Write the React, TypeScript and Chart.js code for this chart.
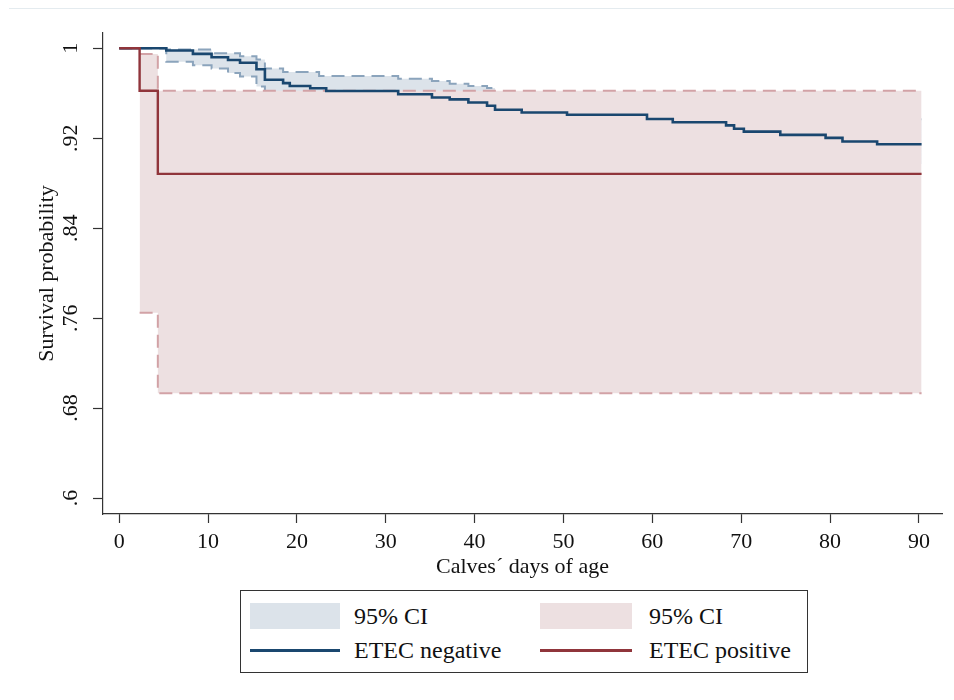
import React, { useEffect, useRef } from "react";
import { Chart, registerables } from "chart.js";

Chart.register(...registerables);

// Axis ticks
const xTicks = [0, 10, 20, 30, 40, 50, 60, 70, 80, 90];
const yTicks = [0.6, 0.68, 0.76, 0.84, 0.92, 1];
const yTickLabels = [".6", ".68", ".76", ".84", ".92", "1"];

// ETEC negative: Kaplan-Meier survival
const negDays = [0, 5.3, 8.3, 10.4, 12.25, 13.6, 15.45, 16.4, 18.45, 19.2, 21.5, 23.3, 31.4, 35.2, 37.2, 39.3, 41.4, 42.3, 45.3, 50.4, 59.4, 62.3, 68.3, 69.2, 70.3, 74.4, 79.5, 81.4, 85.3, 90.3];
const negSurv = [1, 0.998, 0.995, 0.992, 0.9896, 0.9872, 0.9813, 0.972, 0.969, 0.9665, 0.9645, 0.962, 0.9591, 0.9563, 0.9546, 0.9518, 0.9489, 0.9453, 0.9429, 0.9409, 0.9371, 0.9342, 0.9314, 0.9285, 0.9259, 0.923, 0.9203, 0.9171, 0.9147, 0.9147];

// ETEC negative: 95% CI
const negCiDays = [0, 5.3, 8.3, 10.4, 12.25, 13.6, 15.45, 16.4, 18.45, 21.5, 22.5, 31.4, 35.2, 37.2, 39.3, 41.4, 42.3, 45.3, 50.4, 59.4, 62.3, 68.3, 70.3, 74.4, 79.5, 81.4, 85.3, 90.3];
const negCiUpper = [1, 0.999, 0.999, 0.9955, 0.9955, 0.993, 0.99, 0.982, 0.979, 0.979, 0.9754, 0.973, 0.9708, 0.9684, 0.9664, 0.9646, 0.961, 0.958, 0.956, 0.953, 0.951, 0.949, 0.946, 0.944, 0.942, 0.939, 0.937, 0.937];
const negCiLower = [1, 0.988, 0.985, 0.982, 0.978, 0.975, 0.966, 0.955, 0.951, 0.949, 0.948, 0.944, 0.941, 0.939, 0.936, 0.933, 0.929, 0.926, 0.924, 0.92, 0.917, 0.914, 0.91, 0.907, 0.904, 0.9, 0.897, 0.897];

// ETEC positive: Kaplan-Meier survival
const posDays = [0, 2.3, 4.35, 90.3];
const posSurv = [1, 0.9623, 0.8883, 0.8883];

// ETEC positive: 95% CI
const posCiDays = [2.3, 4.35, 90.3];
const posCiUpper = [0.995, 0.9623, 0.9623];
const posCiLower = [0.7647, 0.6933, 0.6933];

const NAVY = "#1a476f";
const MAROON = "#90353b";
const NAVY_DASH = "#8ba4bc";
const MAROON_DASH = "#d2a2a6";
const NAVY_FILL = "#dce3ea";
const MAROON_FILL = "#ede0e1";
const FONT_FAMILY = "'Liberation Serif', 'Times New Roman', serif";

const pts = (xs: number[], ys: number[]) => xs.map((x, i) => ({ x, y: ys[i] }));

export default function App() {
  const canvasRef = useRef<HTMLCanvasElement | null>(null);

  useEffect(() => {
    const canvas = canvasRef.current;
    if (!canvas) return;
    const axisFont = { family: FONT_FAMILY, size: 22, lineHeight: 1.2 };
    const chart = new Chart(canvas, {
      type: "line",
      data: {
        datasets: [
          {
            label: "ETEC positive",
            data: pts(posDays, posSurv),
            borderColor: MAROON,
            borderWidth: 2.4,
            stepped: true,
            pointRadius: 0,
            fill: false,
          },
          {
            label: "ETEC negative",
            data: pts(negDays, negSurv),
            borderColor: NAVY,
            borderWidth: 2.6,
            stepped: true,
            pointRadius: 0,
            fill: false,
          },
          {
            label: "95% CI positive upper",
            data: pts(posCiDays, posCiUpper),
            borderColor: MAROON_DASH,
            borderWidth: 2,
            borderDash: [13, 7],
            stepped: true,
            pointRadius: 0,
            fill: false,
          },
          {
            label: "95% CI positive lower",
            data: pts(posCiDays, posCiLower),
            borderColor: MAROON_DASH,
            borderWidth: 2,
            borderDash: [13, 7],
            stepped: true,
            pointRadius: 0,
            fill: { target: "-1" },
            backgroundColor: MAROON_FILL,
          },
          {
            label: "95% CI negative upper",
            data: pts(negCiDays, negCiUpper),
            borderColor: NAVY_DASH,
            borderWidth: 2,
            borderDash: [13, 7],
            stepped: true,
            pointRadius: 0,
            fill: false,
          },
          {
            label: "95% CI negative lower",
            data: pts(negCiDays, negCiLower),
            borderColor: NAVY_DASH,
            borderWidth: 2,
            borderDash: [13, 7],
            stepped: true,
            pointRadius: 0,
            fill: { target: "-1" },
            backgroundColor: NAVY_FILL,
          },
        ],
      },
      options: {
        animation: false,
        responsive: false,
        devicePixelRatio: 1,
        layout: { padding: { left: 0, top: 33, right: 12, bottom: 0 } },
        plugins: {
          legend: { display: false },
          tooltip: { enabled: false },
        },
        scales: {
          x: {
            type: "linear",
            min: -1.82,
            max: 92.6,
            afterBuildTicks: (s: any) => {
              s.ticks = xTicks.map((v) => ({ value: v }));
            },
            afterFit: (s: any) => {
              s.height = 76;
            },
            grid: { drawOnChartArea: false, drawTicks: true, tickLength: 9, tickColor: "#333", tickWidth: 1.2 },
            border: { display: true, color: "#333", width: 1.2 },
            ticks: {
              padding: 6,
              color: "#111",
              font: axisFont,
              maxRotation: 0,
              autoSkip: false,
              callback: (v: any) => String(v),
            },
            title: {
              display: true,
              text: "Calves´ days of age",
              color: "#111",
              font: axisFont,
              padding: { top: 0, bottom: 10 },
            },
          },
          y: {
            type: "linear",
            min: 0.5858,
            max: 1.0136,
            afterBuildTicks: (s: any) => {
              s.ticks = yTicks.map((v) => ({ value: v }));
            },
            afterFit: (s: any) => {
              s.width = 103;
            },
            grid: { drawOnChartArea: false, drawTicks: true, tickLength: 10, tickColor: "#333", tickWidth: 1.2 },
            border: { display: true, color: "#333", width: 1.2 },
            ticks: {
              minRotation: 90,
              maxRotation: 90,
              crossAlign: "center",
              padding: 8,
              color: "#111",
              font: axisFont,
              autoSkip: false,
              callback: (_v: any, i: number) => yTickLabels[i],
            },
            title: {
              display: true,
              text: "Survival probability",
              color: "#111",
              font: axisFont,
              padding: { top: 34, bottom: 0 },
            },
          },
        },
      },
    } as any);
    return () => chart.destroy();
  }, []);

  const legendText: React.CSSProperties = {
    position: "absolute",
    fontFamily: FONT_FAMILY,
    fontSize: 24,
    color: "#111",
    lineHeight: "28px",
    whiteSpace: "nowrap",
  };

  return (
    <div style={{ position: "absolute", left: 0, top: 0, width: 954, height: 700, background: "#fff", overflow: "hidden" }}>
      <div style={{ position: "absolute", left: 9, top: 8, width: 945, height: 0, borderTop: "1px solid #e4ebef" }} />
      <canvas ref={canvasRef} width={954} height={590} style={{ position: "absolute", left: 0, top: 0 }} />
      <div
        style={{
          position: "absolute",
          left: 240,
          top: 590,
          width: 568,
          height: 83,
          border: "1px solid #333",
          boxSizing: "border-box",
        }}
      />
      <div style={{ position: "absolute", left: 250, top: 603, width: 90, height: 26, background: NAVY_FILL }} />
      <div style={{ ...legendText, left: 354, top: 602 }}>95% CI</div>
      <div style={{ position: "absolute", left: 540, top: 603, width: 92, height: 26, background: MAROON_FILL }} />
      <div style={{ ...legendText, left: 649, top: 602 }}>95% CI</div>
      <div style={{ position: "absolute", left: 250, top: 649, width: 90, height: 2.5, background: NAVY }} />
      <div style={{ ...legendText, left: 354, top: 636 }}>ETEC negative</div>
      <div style={{ position: "absolute", left: 540, top: 649, width: 92, height: 2.5, background: MAROON }} />
      <div style={{ ...legendText, left: 649, top: 636 }}>ETEC positive</div>
    </div>
  );
}
